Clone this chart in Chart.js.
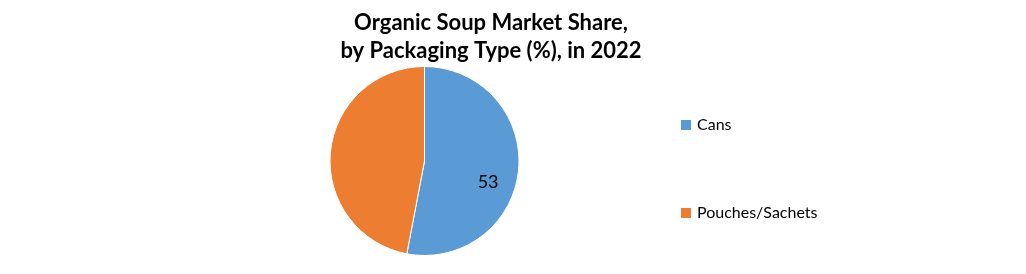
<!DOCTYPE html>
<html>
<head>
<meta charset="utf-8">
<script src="https://cdn.jsdelivr.net/npm/chart.js@4"></script>
<style>
  html, body { margin: 0; padding: 0; background: #fff; }
  #wrap { width: 1026px; height: 274px; position: relative; }
</style>
</head>
<body>
<div id="wrap"><canvas id="pie"></canvas></div>
<script>
const categories = ["Cans", "Pouches/Sachets"];
const shares = [53, 47];
const colors = ["#5B9BD5", "#ED7D31"];
const titleLines = ["Organic Soup Market Share,", "by Packaging Type (%), in 2022"];
const shownLabels = [true, false];

const FONT = "Lato, 'Open Sans', sans-serif";

// title, legend and the one value label are drawn by hand
const extras = {
  id: "extras",
  afterDatasetsDraw(chart) {
    const ctx = chart.ctx;
    ctx.save();
    ctx.fillStyle = "#000";
    ctx.textAlign = "center";
    ctx.textBaseline = "alphabetic";
    ctx.font = "bold 22px " + FONT;
    ctx.fillText(titleLines[0], 491, 30);
    ctx.fillText(titleLines[1], 491, 58);

    const meta = chart.getDatasetMeta(0);
    ctx.font = "18px " + FONT;
    ctx.textBaseline = "middle";
    meta.data.forEach((arc, i) => {
      if (!shownLabels[i]) return;
      const mid = (arc.startAngle + arc.endAngle) / 2 + 0.23;
      const r = arc.outerRadius * 0.71;
      ctx.fillText(String(shares[i]), arc.x + Math.cos(mid) * r, arc.y + Math.sin(mid) * r);
    });

    ctx.textAlign = "left";
    ctx.font = "16px " + FONT;
    categories.forEach((c, i) => {
      const y = 125 + i * 88;
      ctx.fillStyle = colors[i];
      ctx.fillRect(681, y - 5, 10, 10);
      ctx.fillStyle = "#000";
      ctx.fillText(c, 697, y);
    });
    ctx.restore();
  }
};

new Chart(document.getElementById("pie"), {
  type: "pie",
  data: {
    labels: categories,
    datasets: [{
      data: shares,
      backgroundColor: colors,
      borderColor: "#fff",
      borderWidth: 1
    }]
  },
  options: {
    responsive: true,
    maintainAspectRatio: false,
    animation: false,
    layout: { padding: { top: 66, bottom: 18, left: 329, right: 506 } },
    plugins: {
      legend: { display: false },
      title: { display: false },
      tooltip: { enabled: false }
    }
  },
  plugins: [extras]
});
</script>
</body>
</html>
